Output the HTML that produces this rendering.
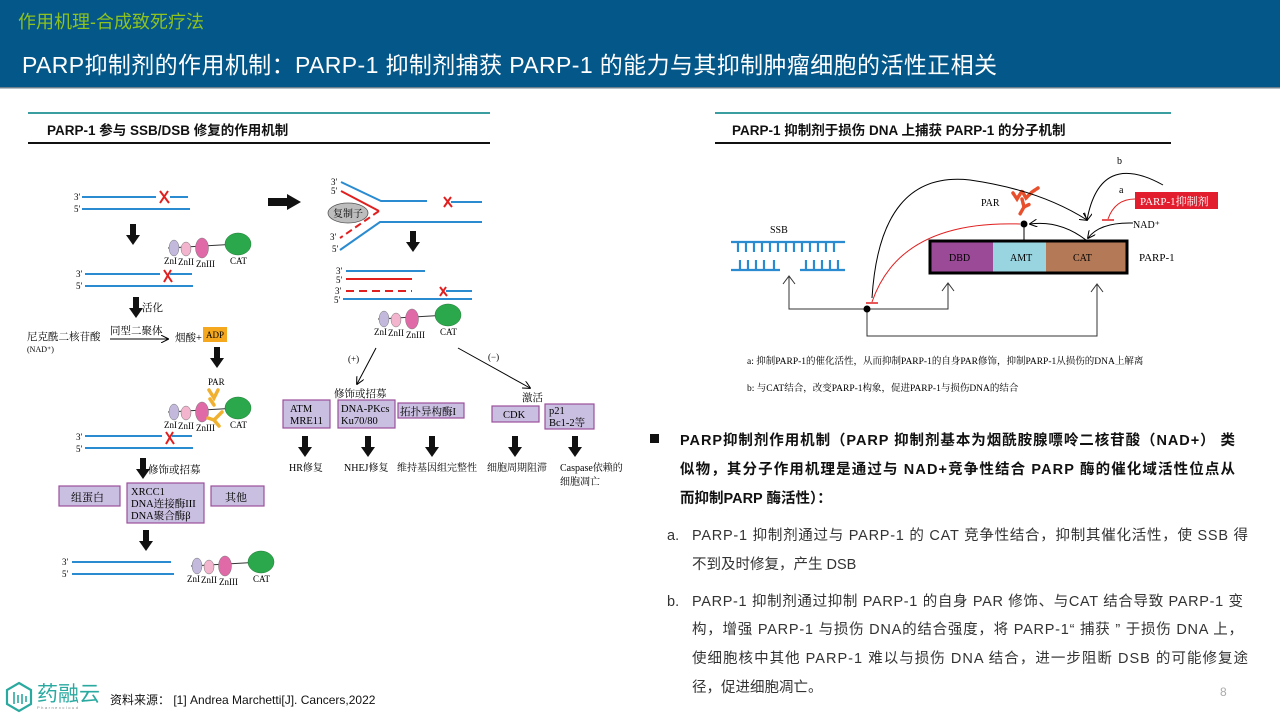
<!DOCTYPE html>
<html><head><meta charset="utf-8"><style>
html,body{margin:0;padding:0;background:#fff}
svg{display:block}
.s{font-family:"Liberation Serif","Noto Serif CJK SC",serif}
.n{font-family:"Liberation Sans","Noto Sans CJK SC",sans-serif}
</style></head><body>
<svg width="1280" height="720" viewBox="0 0 1280 720" xmlns="http://www.w3.org/2000/svg">
<defs>
<marker id="ah" viewBox="0 0 10 10" refX="9" refY="5" markerWidth="8" markerHeight="8" orient="auto"><path d="M0,0 L10,5 L0,10" fill="none" stroke="#000" stroke-width="1.3"/></marker>
<marker id="af" viewBox="0 0 10 10" refX="9" refY="5" markerWidth="6" markerHeight="6" orient="auto"><path d="M0,1 L10,5 L0,9 z" fill="#000"/></marker>
<g id="prot">
<line x1="-6" y1="0" x2="64" y2="-4" stroke="#333" stroke-width="1"/>
<ellipse cx="0" cy="0" rx="5" ry="8" fill="#c2b9dd" stroke="#777" stroke-width=".5"/>
<ellipse cx="12" cy="1" rx="5" ry="7" fill="#f3b5cd" stroke="#777" stroke-width=".5"/>
<ellipse cx="28" cy="0" rx="6.5" ry="10" fill="#e06aa8" stroke="#777" stroke-width=".5"/>
<ellipse cx="64" cy="-4" rx="13" ry="11" fill="#2ba84b" stroke="#1d7a35" stroke-width=".5"/>
<text class="s" x="-10" y="16" font-size="9">ZnI</text>
<text class="s" x="4" y="17" font-size="9">ZnII</text>
<text class="s" x="22" y="19" font-size="9">ZnIII</text>
<text class="s" x="56" y="16" font-size="9">CAT</text>
</g>
<g id="dn"><rect x="-3" y="0" width="6" height="12" fill="#111"/><path d="M-7,11 L7,11 L0,21 z" fill="#111"/></g>
</defs>

<!-- header -->
<rect x="0" y="0" width="1280" height="87" fill="#035789"/>
<rect x="0" y="87" width="1280" height="1.5" fill="#6d7f8c"/>
<text class="n" x="18" y="28" font-size="18" fill="#8dc21f">作用机理-合成致死疗法</text>
<text class="n" x="22" y="73" font-size="23" fill="#fff" textLength="975">PARP抑制剂的作用机制：PARP-1 抑制剂捕获 PARP-1 的能力与其抑制肿瘤细胞的活性正相关</text>

<!-- section headers -->
<rect x="28" y="112" width="462" height="2" fill="#3a9ea0"/>
<text class="n" x="47" y="135" font-size="13.5" font-weight="bold" fill="#111">PARP-1 参与 SSB/DSB 修复的作用机制</text>
<rect x="28" y="142" width="462" height="2" fill="#111"/>
<rect x="715" y="112" width="456" height="2" fill="#3a9ea0"/>
<text class="n" x="732" y="135" font-size="13.5" font-weight="bold" fill="#111">PARP-1 抑制剂于损伤 DNA 上捕获 PARP-1 的分子机制</text>
<rect x="715" y="142" width="456" height="2" fill="#111"/>

<!-- LEFT diagram column 1 -->
<g class="s" font-size="9">
<text x="74" y="200">3′</text><text x="74" y="212">5′</text>
<line x1="82" y1="197" x2="156" y2="197" stroke="#2a8bd0" stroke-width="2"/>
<line x1="170" y1="197" x2="188" y2="197" stroke="#2a8bd0" stroke-width="2"/>
<line x1="82" y1="209" x2="190" y2="209" stroke="#2a8bd0" stroke-width="2"/>
<path d="M160,191 L169,203 M168,191 L160,203" stroke="#e02020" stroke-width="2"/>
<use href="#dn" x="133" y="224"/>
<use href="#prot" x="174" y="248"/>
<text x="76" y="277">3′</text><text x="76" y="289">5′</text>
<line x1="85" y1="274" x2="160" y2="274" stroke="#2a8bd0" stroke-width="2"/>
<line x1="170" y1="274" x2="192" y2="274" stroke="#2a8bd0" stroke-width="2"/>
<line x1="85" y1="286" x2="193" y2="286" stroke="#2a8bd0" stroke-width="2"/>
<path d="M164,270 L172,282 M171,270 L164,282" stroke="#e02020" stroke-width="2"/>
<use href="#dn" x="136" y="297"/>
<text x="142" y="311" font-size="10.5">活化</text>
<text x="27" y="340" font-size="10.5">尼克酰二核苷酸</text>
<text x="27" y="352" font-size="8">(NAD⁺)</text>
<text x="110" y="334" font-size="10.5">同型二聚体</text>
<line x1="110" y1="339" x2="168" y2="339" stroke="#000" stroke-width="1" marker-end="url(#ah)"/>
<text x="175" y="341" font-size="10.5">烟酸+</text>
<rect x="203" y="327" width="24" height="15" fill="#f5a81e"/>
<text x="206" y="338" font-size="9">ADP</text>
<use href="#dn" x="217" y="347"/>
<text x="208" y="385" font-size="9">PAR</text>
<use href="#prot" x="174" y="412"/>
<path d="M209,390 l5,8 l4,-8 M210,399 l4,6 M222,412 l-8,8 l-6,-2 M214,420 l5,6" stroke="#f0b030" stroke-width="3.5" fill="none" stroke-linecap="round"/>
<text x="76" y="440">3′</text><text x="76" y="452">5′</text>
<line x1="85" y1="436" x2="162" y2="436" stroke="#2a8bd0" stroke-width="2"/>
<line x1="172" y1="436" x2="192" y2="436" stroke="#2a8bd0" stroke-width="2"/>
<line x1="85" y1="448" x2="193" y2="448" stroke="#2a8bd0" stroke-width="2"/>
<path d="M166,432 L174,444 M173,432 L166,444" stroke="#e02020" stroke-width="2"/>
<use href="#dn" x="143" y="458"/>
<text x="148" y="473" font-size="10.5">修饰或招募</text>
<rect x="59" y="486" width="61" height="20" fill="#c9bfe0" stroke="#9b4f9b" stroke-width="1.2"/>
<text x="71" y="501" font-size="11">组蛋白</text>
<rect x="127" y="483" width="77" height="40" fill="#c9bfe0" stroke="#9b4f9b" stroke-width="1.2"/>
<text x="131" y="495" font-size="10.5">XRCC1</text>
<text x="131" y="507" font-size="10.5">DNA连接酶III</text>
<text x="131" y="519" font-size="10.5">DNA聚合酶β</text>
<rect x="211" y="486" width="53" height="20" fill="#c9bfe0" stroke="#9b4f9b" stroke-width="1.2"/>
<text x="225" y="501" font-size="11">其他</text>
<use href="#dn" x="146" y="530"/>
<text x="62" y="565">3′</text><text x="62" y="577">5′</text>
<line x1="72" y1="562" x2="171" y2="562" stroke="#2a8bd0" stroke-width="2"/>
<line x1="72" y1="574" x2="174" y2="574" stroke="#2a8bd0" stroke-width="2"/>
<use href="#prot" x="197" y="566"/>

<!-- column 2 -->
<rect x="268" y="198" width="20" height="8" fill="#111"/><path d="M287,194 L301,202 L287,210 z" fill="#111"/>
<text x="331" y="185">3′</text><text x="331" y="194">5′</text>
<polyline points="341,182 381,201 427,201" fill="none" stroke="#2a8bd0" stroke-width="2"/>
<line x1="451" y1="202" x2="482" y2="202" stroke="#2a8bd0" stroke-width="2"/>
<path d="M444,197 L452,207 M451,197 L444,207" stroke="#e02020" stroke-width="2"/>
<polyline points="341,191 379,211" fill="none" stroke="#e02020" stroke-width="2"/>
<line x1="379" y1="211" x2="340" y2="238" stroke="#e02020" stroke-width="2" stroke-dasharray="7,4"/>
<polyline points="340,250 380,222 482,222" fill="none" stroke="#2a8bd0" stroke-width="2"/>
<ellipse cx="348" cy="213" rx="20" ry="10" fill="#bdbdbd" stroke="#555" stroke-width=".8"/>
<text x="333" y="217" font-size="10">复制子</text>
<text x="330" y="240">3′</text><text x="332" y="252">5′</text>
<use href="#dn" x="413" y="231"/>
<text x="336" y="274">3′</text><text x="336" y="283">5′</text><text x="335" y="294">3′</text><text x="334" y="303">5′</text>
<line x1="346" y1="271" x2="425" y2="271" stroke="#2a8bd0" stroke-width="2"/>
<line x1="346" y1="279" x2="412" y2="279" stroke="#e02020" stroke-width="2"/>
<line x1="346" y1="291" x2="412" y2="291" stroke="#e02020" stroke-width="2" stroke-dasharray="8,5"/>
<line x1="446" y1="291" x2="472" y2="291" stroke="#2a8bd0" stroke-width="2"/>
<path d="M440,287 L447,296 M446,287 L440,296" stroke="#e02020" stroke-width="2"/>
<line x1="343" y1="299" x2="472" y2="299" stroke="#2a8bd0" stroke-width="2"/>
<use href="#prot" x="384" y="319"/>
<line x1="376" y1="348" x2="357" y2="384" stroke="#000" stroke-width="1" marker-end="url(#ah)"/>
<line x1="458" y1="348" x2="530" y2="388" stroke="#000" stroke-width="1" marker-end="url(#ah)"/>
<text x="348" y="362">(+)</text><text x="488" y="360">(−)</text>
<text x="334" y="397" font-size="10.5">修饰或招募</text>
<text x="522" y="401" font-size="10.5">激活</text>
<g fill="#c9bfe0" stroke="#9b4f9b" stroke-width="1.2">
<rect x="283" y="400" width="47" height="28"/><rect x="338" y="400" width="57" height="28"/>
<rect x="398" y="403" width="66" height="15"/><rect x="492" y="406" width="47" height="16"/>
<rect x="545" y="404" width="49" height="25"/>
</g>
<g font-size="10.5">
<text x="290" y="412">ATM</text><text x="290" y="424">MRE11</text>
<text x="341" y="412">DNA-PKcs</text><text x="341" y="424">Ku70/80</text>
<text x="400" y="415">拓扑异构酶I</text>
<text x="503" y="418">CDK</text>
<text x="549" y="414">p21</text><text x="549" y="426">Bc1-2等</text>
</g>
<use href="#dn" x="305" y="436"/><use href="#dn" x="368" y="436"/><use href="#dn" x="432" y="436"/>
<use href="#dn" x="515" y="436"/><use href="#dn" x="575" y="436"/>
<g font-size="10">
<text x="289" y="471">HR修复</text><text x="344" y="471">NHEJ修复</text><text x="397" y="471">维持基因组完整性</text>
<text x="487" y="471">细胞周期阻滞</text><text x="560" y="471">Caspase依赖的</text><text x="560" y="485">细胞凋亡</text>
</g>
</g>

<!-- RIGHT diagram -->
<g class="s" font-size="10">
<text x="1117" y="164">b</text>
<text x="1119" y="193">a</text>
<text x="770" y="233">SSB</text>
<g stroke="#2a8bd0" stroke-width="2.2">
<line x1="731" y1="242" x2="845" y2="242"/>
<path d="M738,242v10 M746,242v10 M754,242v10 M762,242v10 M770,242v10 M778,242v10 M786,242v10 M794,242v10 M802,242v10 M810,242v10 M818,242v10 M826,242v10 M834,242v10"/>
<line x1="731" y1="270" x2="780" y2="270"/><line x1="800" y1="270" x2="845" y2="270"/>
<path d="M740,270v-10 M748,270v-10 M756,270v-10 M764,270v-10 M774,270v-10 M806,270v-10 M814,270v-10 M822,270v-10 M830,270v-10 M838,270v-10"/>
</g>
<rect x="930" y="241" width="63" height="32" fill="#9b4a98"/>
<rect x="993" y="241" width="53" height="32" fill="#99d5e0"/>
<rect x="1046" y="241" width="81" height="32" fill="#b47a58"/>
<rect x="930" y="241" width="197" height="32" fill="none" stroke="#000" stroke-width="3"/>
<text x="949" y="261">DBD</text><text x="1010" y="261">AMT</text><text x="1073" y="261">CAT</text>
<text x="1139" y="261" font-size="11">PARP-1</text>
<text x="981" y="206">PAR</text>
<path d="M1013,193 l4,6 l5,-8 l4,7 l6,-6 l6,-4 M1022,199 l2,8 l-4,7 M1024,207 l6,-3" stroke="#e8502d" stroke-width="3.5" fill="none" stroke-dasharray="2,1.5" stroke-linecap="round"/>
<line x1="1024" y1="224" x2="1024" y2="241" stroke="#000" stroke-width="1"/>
<circle cx="1024" cy="224" r="3.5" fill="#000"/>
<path d="M1086,240 Q1060,220 1030,224" fill="none" stroke="#000" stroke-width="1" marker-end="url(#ah)"/>
<path d="M1133,223 Q1100,222 1088,238" fill="none" stroke="#000" stroke-width="1" marker-end="url(#ah)"/>
<text x="1133" y="228" font-size="10">NAD⁺</text>
<path d="M1163,185 Q1100,150 1087,220" fill="none" stroke="#000" stroke-width="1" marker-end="url(#ah)"/>
<path d="M872,298 Q880,170 970,180 Q1040,190 1087,220" fill="none" stroke="#000" stroke-width="1" marker-end="url(#ah)"/>
<path d="M1020,224 Q900,220 872,302" fill="none" stroke="#e02020" stroke-width="1"/>
<line x1="866" y1="303" x2="878" y2="303" stroke="#e02020" stroke-width="1.5"/>
<rect x="1135" y="192" width="83" height="17" fill="#e11d2e"/>
<text x="1140" y="205" font-size="11" fill="#fff">PARP-1抑制剂</text>
<path d="M1135,199 Q1115,199 1108,219" fill="none" stroke="#e02020" stroke-width="1"/>
<line x1="1102" y1="220" x2="1114" y2="220" stroke="#e02020" stroke-width="1.5"/>
<g fill="none" stroke="#333" stroke-width="1">
<polyline points="789,277 789,309 948,309 948,284"/>
<polyline points="867,309 867,336 1097,336 1097,285"/>
<path d="M783,284 l6,-8 l6,8 M942,291 l6,-8 l6,8 M1091,292 l6,-8 l6,8"/>
</g>
<circle cx="867" cy="309" r="3.5" fill="#000"/>
<text x="747" y="364" font-size="9.5">a: 抑制PARP-1的催化活性，从而抑制PARP-1的自身PAR修饰，抑制PARP-1从损伤的DNA上解离</text>
<text x="747" y="391" font-size="9.5">b: 与CAT结合，改变PARP-1构象，促进PARP-1与损伤DNA的结合</text>
</g>

<!-- RIGHT text -->
<g class="n" fill="#111">
<rect x="650" y="434" width="9" height="9" fill="#111"/>
<g font-size="14.5" font-weight="bold">
<text x="680" y="445" textLength="555">PARP抑制剂作用机制（PARP 抑制剂基本为烟酰胺腺嘌呤二核苷酸（NAD+） 类</text>
<text x="680" y="474" textLength="555">似物，其分子作用机理是通过与 NAD+竞争性结合 PARP 酶的催化域活性位点从</text>
<text x="680" y="503">而抑制PARP 酶活性）：</text>
</g>
<g font-size="14.5" fill="#333">
<text x="667" y="540">a.</text>
<text x="692" y="540" textLength="556">PARP-1 抑制剂通过与 PARP-1 的 CAT 竞争性结合，抑制其催化活性，使 SSB 得</text>
<text x="692" y="569">不到及时修复，产生 DSB</text>
<text x="667" y="606">b.</text>
<text x="692" y="606" textLength="551">PARP-1 抑制剂通过抑制 PARP-1 的自身 PAR 修饰、与CAT 结合导致 PARP-1 变</text>
<text x="692" y="634" textLength="551">构，增强 PARP-1 与损伤 DNA的结合强度，将 PARP-1“ 捕获 ” 于损伤 DNA 上，</text>
<text x="692" y="663" textLength="556">使细胞核中其他 PARP-1 难以与损伤 DNA 结合，进一步阻断 DSB 的可能修复途</text>
<text x="692" y="692">径，促进细胞凋亡。</text>
</g>
<text x="1220" y="696" font-size="12" fill="#aaa">8</text>
</g>

<!-- footer logo -->
<path d="M19,683 L31,690 L31,704 L19,711 L7,704 L7,690 z" fill="none" stroke="#2aa9a0" stroke-width="2.2"/>
<path d="M14,692v12 M18,695v8 M22,694v10 M26,696v6" stroke="#2aa9a0" stroke-width="1.6"/>
<text class="n" x="37" y="701" font-size="21" fill="#2aa9a0">药融云</text>
<text class="n" x="37" y="709" font-size="4" fill="#888" letter-spacing="1.5">Pharnexcloud</text>
<text class="n" x="110" y="704" font-size="12" fill="#111">资料来源：  [1] Andrea Marchetti[J]. Cancers,2022</text>
</svg>
</body></html>
